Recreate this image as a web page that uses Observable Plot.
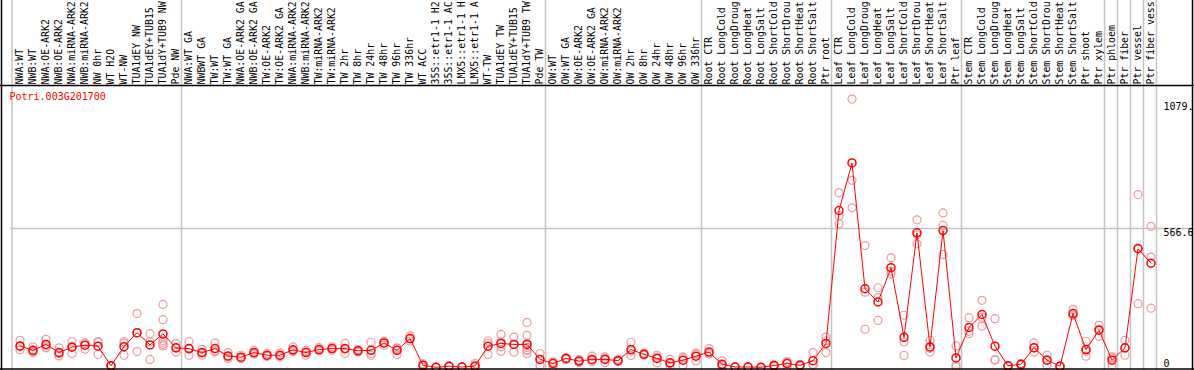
<!DOCTYPE html>
<html><head><meta charset="utf-8">
<script src="https://cdn.jsdelivr.net/npm/d3@7"></script>
<script src="https://cdn.jsdelivr.net/npm/@observablehq/plot@0.6"></script>
<style>
html,body{margin:0;padding:0;background:#fff;}
#chart{width:1194px;height:370px;overflow:hidden;}
</style></head><body><div id="chart"></div>
<script>
const title = "Potri.003G201700";

const labels = [
  "NWA:WT","NWB:WT","NWA:OE-ARK2","NWB:OE-ARK2","NWA:miRNA-ARK2","NWB:miRNA-ARK2","NW 0hr","WT H2O","WT-NW","TUA1dEY NW","TUA1dEY+TUB15","TUA1dY+TUB9 NW","Pde NW",
  "NWA:WT GA","NWBWT GA","TW:WT","TW:WT GA","NWA:OE-ARK2 GA","NWB:OE-ARK2 GA","TW:OE-ARK2","TW:OE-ARK2 GA","NWA:miRNA-ARK2","NWB:miRNA-ARK2","TW:miRNA-ARK2","TW:miRNA-ARK2",
  "TW 2hr","TW 8hr","TW 24hr","TW 48hr","TW 96hr","TW 336hr","WT ACC","35S::etr1-1 H2","35S::etr1-1 AC","LMX5::etr1-1 H","LMX5::etr1-1 A","WT-TW","TUA1dEY TW","TUA1dEY+TUB15","TUA1dY+TUB9 TW","Pde TW",
  "OW:WT","OW:WT GA","OW:OE-ARK2","OW:OE-ARK2 GA","OW:miRNA-ARK2","OW:miRNA-ARK2","OW 2hr","OW 8hr","OW 24hr","OW 48hr","OW 96hr","OW 336hr",
  "Root CTR","Root LongCold","Root LongDroug","Root LongHeat","Root LongSalt","Root ShortCold","Root ShortDrou","Root ShortHeat","Root ShortSalt","Ptr root",
  "Leaf CTR","Leaf LongCold","Leaf LongDroug","Leaf LongHeat","Leaf LongSalt","Leaf ShortCold","Leaf ShortDrou","Leaf ShortHeat","Leaf ShortSalt","Ptr leaf",
  "Stem CTR","Stem LongCold","Stem LongDroug","Stem LongHeat","Stem LongSalt","Stem ShortCold","Stem ShortDrou","Stem ShortHeat","Stem ShortSalt","Ptr shoot","Ptr xylem",
  "Ptr phloem","Ptr fiber","Ptr vessel","Ptr fiber vess"
];

const means = [
  88,70,94,61,83,91,87,7,85,142,92,137,80,
  77,61,77,47,42,61,50,50,72,61,73,77,
  77,68,70,100,70,118,9,1,5,2,6,87,98,94,94,33,
  16,37,26,33,33,28,73,54,37,19,30,46,
  63,13,2,2,1,8,16,9,28,98,
  640,834,321,267,407,123,549,84,558,39,
  163,216,87,7,13,81,30,5,220,73,152,
  30,80,484,425
];

const replicates = [
  [111,84,72],[84,61,65],[115,88,80],[80,47,56],[106,57,86],[98,74,100],[106,53,102],[7,5,9],[106,50,99],[220,65,141],[138,33,105],[257,195,110,102,94,88],[98,63,79],
  [106,50,75],[74,50,59],[100,63,68],[61,43,37],[50,37,39],[70,54,59],[57,46,47],[59,43,48],[84,68,64],[70,50,63],[81,70,68],[84,70,77],
  [98,57,76],[73,63,68],[103,50,57],[108,91,101],[77,53,80],[129,108,117],[16,2,9],[0,1,2],[3,5,7],[1,2,3],[16,2,2],[108,53,98],[135,66,84,105],[124,63,95],[183,131,57,98,72,82,70],[57,9,33],
  [23,2,22],[40,33,38],[32,20,26],[46,23,30],[43,19,37],[33,24,27],[103,49,67],[59,50,53],[50,19,42],[33,8,16],[43,9,38],[59,26,53],
  [77,55,57],[27,2,10],[1,2,3],[1,2,3],[0,1,2],[5,8,11],[23,2,23],[6,9,12],[61,13,10],[124,61,109],
  [712,619,586],[1094,763,651],[497,156,307],[325,192,285],[447,382,392],[213,104,49],[602,504,541],[111,63,78],[630,579,461],[88,10,2],
  [203,138,148],[274,169,205],[199,30,32],[5,7,9],[10,13,16],[100,63,80],[50,9,31],[3,5,7],[236,213,211],[107,46,66],[172,127,157],
  [43,9,38],[111,50,79],[705,260,487],[575,450,242]
];

// group separators: placed after these category indices
const groupEnds = [12,40,52,62,72,83,84,85,86,87];
const firstIndex = [0];
const gridValues = [566.6];
const tickValuesTop = [566.6, 1079];
const tickLabelsTop = ["566.6", "1079."];
const tickValuesBottom = [0];
const tickLabelsBottom = ["0"];
const yMax = 1149.5;

const idx = d3.range(labels.length);
const repTable = replicates.flatMap((vals, i) => vals.map(v => ({i, v})));
const meanTable = means.map((v, i) => ({i, v}));

const W = 1194, H = 370, MT = 85, MB = 3, ML = 13, MR = 37;
const grey = "#c4c4c4";

const chart = Plot.plot({
  width: W, height: H,
  marginTop: MT, marginBottom: MB, marginLeft: ML, marginRight: MR,
  style: {fontFamily: "DejaVu Sans Mono, monospace", fontSize: "10px", background: "white", overflow: "visible"},
  x: {type: "band", domain: idx, padding: 0, axis: null},
  y: {domain: [0, yMax], axis: null},
  marks: [
    Plot.ruleX(firstIndex, {x: d => d, dx: -8, stroke: grey, strokeWidth: 1.5, insetTop: -MT, insetBottom: -MB}),
    Plot.ruleX(groupEnds, {x: d => d, dx: 5.5, stroke: grey, strokeWidth: 1.5, insetTop: -MT, insetBottom: -MB}),
    Plot.ruleY(gridValues, {y: d => d, stroke: grey, strokeWidth: 1.5, insetLeft: -3, insetRight: -MR}),
    Plot.axisX({anchor: "top", tickSize: 0, tickPadding: 1, tickRotate: -90, tickFormat: i => labels[i], label: null, fill: "black", fontSize: 9.9}),
    Plot.text(tickValuesTop, {y: d => d, text: (d, i) => tickLabelsTop[i], frameAnchor: "right", textAnchor: "start", lineAnchor: "top", dx: 6, fill: "black"}),
    Plot.text(tickValuesBottom, {y: d => d, text: (d, i) => tickLabelsBottom[i], frameAnchor: "right", textAnchor: "start", lineAnchor: "bottom", dx: 6, dy: -1, fill: "black"}),
    Plot.dot(repTable, {x: "i", y: "v", r: 4, stroke: "#f09898", strokeWidth: 1.2}),
    Plot.line(meanTable, {x: "i", y: "v", stroke: "red", strokeWidth: 1}),
    Plot.dot(meanTable, {x: "i", y: "v", r: 4, stroke: "red", strokeWidth: 1.5}),
    Plot.text([title], {frameAnchor: "top-left", dx: -4, dy: 7, lineAnchor: "top", textAnchor: "start", fill: "red"})
  ]
});

// outer frame decoration (derived from layout)
const s = d3.select(chart);
const frame = [
  [1.5, 0, 1.5, H], [W - 1.5, 0, W - 1.5, H],
  [0, MT + 0.5, W, MT + 0.5], [0, H - 1, W, H - 1]
];
for (const [x1, y1, x2, y2] of frame) {
  s.append("line").attr("x1", x1).attr("y1", y1).attr("x2", x2).attr("y2", y2)
    .attr("stroke", "black").attr("stroke-width", 1.5);
}
document.getElementById("chart").appendChild(chart);
</script></body></html>
